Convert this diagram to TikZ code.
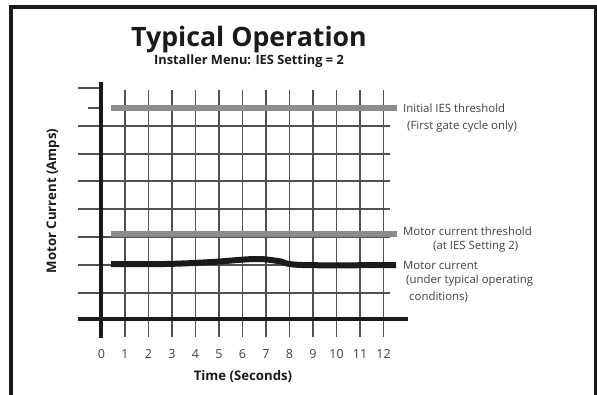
\documentclass[tikz,border=0pt]{standalone}
\usepackage{fontspec}
\setmainfont{Open Sans}
\definecolor{ink}{HTML}{1A1A1A}
\definecolor{gridc}{HTML}{505050}
\definecolor{barc}{HTML}{8C8C8C}
\definecolor{labelc}{HTML}{404040}
\begin{document}
\begin{tikzpicture}[x=1pt,y=-1pt,
  gridline/.style={draw=gridc,line width=1.8pt},
  axisline/.style={draw=ink,line width=4pt},
  bar/.style={draw=barc,line width=6pt},
  curve/.style={draw=ink,line width=6pt,line cap=butt},
  ticklabel/.style={text=labelc,font=\fontsize{12.5}{13}\selectfont,inner sep=0pt},
  sidelabel/.style={text=labelc,font=\fontsize{11.4}{12}\selectfont,anchor=west,inner sep=0pt},
  axislabel/.style={text=ink,font=\bfseries\fontsize{13.2}{14}\selectfont,inner sep=0pt}]
\useasboundingbox (0,0) rectangle (597,394);
% outer frame (open at the bottom)
\draw[draw=ink,line width=4pt] (11,400) -- (11,7) -- (596,7) -- (596,400);

% titles
\node[text=ink,font=\bfseries\fontsize{26.7}{27}\selectfont,inner sep=0pt] (title) at (249,40) {Typical Operation};
\node[text=ink,font=\bfseries\fontsize{12.8}{13}\selectfont,inner sep=0pt] (subtitle) at (249,61) {Installer Menu: IES Setting = 2};

% horizontal grid lines
\foreach \yy in {126,154,181,209,237,265,293} \draw[gridline] (78,\yy) -- (390,\yy);
\draw[gridline] (78,88) -- (101,88);
\draw[gridline] (88,108) -- (101,108);
% vertical grid lines
\foreach \n in {1,...,12} \draw[gridline] ({101.5+23.5*\n},90) -- ({101.5+23.5*\n},337);

% threshold bars
\draw[bar] (111,108) -- (397,108);
\draw[bar] (111,234) -- (397,234);
% motor current
\draw[curve] plot[smooth,tension=0.6] coordinates {(111,264) (165,264) (212,262) (255,259) (278,261) (302,265) (396,265)};

% axes
\draw[axisline] (101,82) -- (101,338);
\draw[axisline] (78,319) -- (408,319);

% time ticks
\foreach \n in {0,...,12} \node[ticklabel] (t\n) at ({101.5+23.5*\n},354) {\n};

% axis titles
\node[axislabel] (xlab) at (243,377) {Time (Seconds)};
\node[axislabel,rotate=90] (ylab) at (53,201) {Motor Current (Amps)};

% side labels
\node[sidelabel] (l1) at (403,108) {Initial IES threshold};
\node[sidelabel] (l2) at (407,127) {(First gate cycle only)};
\node[sidelabel] (l3) at (403,231) {Motor current threshold};
\node[sidelabel] (l4) at (433,247) {(at IES Setting 2)};
\node[sidelabel] (l5) at (403,265) {Motor current};
\node[sidelabel] (l6) at (406,281) {(under typical operating};
\node[sidelabel] (l7) at (409,297) {conditions)};
\end{tikzpicture}
\end{document}
